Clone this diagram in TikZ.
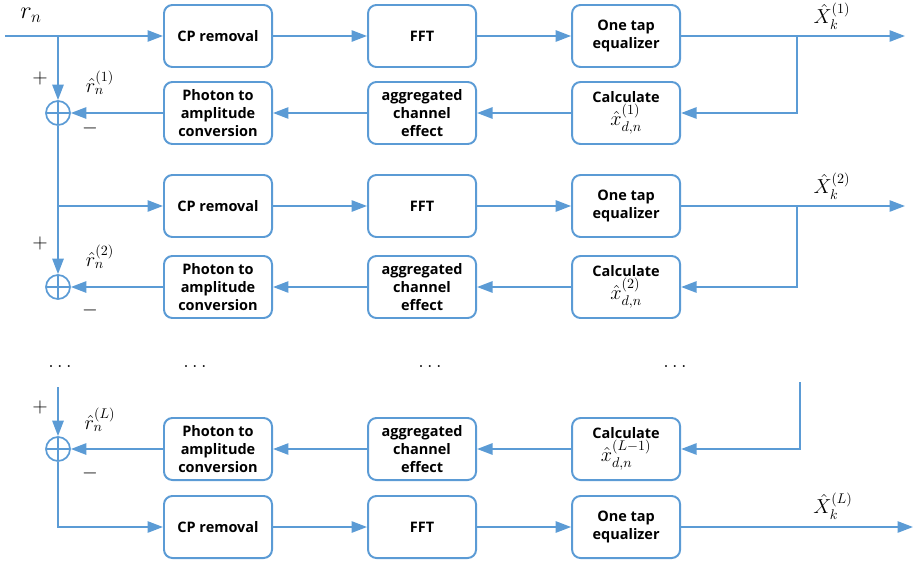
\documentclass[tikz,border=0pt]{standalone}
\usepackage{amsmath}
\usepackage{fontspec}
\newfontfamily\blockfont{Open Sans}
\usetikzlibrary{arrows.meta, positioning}
\definecolor{lineblue}{RGB}{91,155,213}
\newcommand*{\xest}[1]{{\fontsize{14.5}{15}\selectfont$\hat{x}^{(#1)}_{d,n}$}}

\begin{document}
\begin{tikzpicture}[
        x=0.025cm, y=-0.025cm, on grid, node distance=1.9cm and 5.1cm,
        >={Triangle[length=11pt,width=8pt]},
        blk/.style={draw=lineblue, line width=1.4pt, rounded corners=6pt,
          minimum width=2.7cm, minimum height=1.55cm, align=center,
          font=\blockfont\bfseries\fontsize{10.3}{12.6}\selectfont},
        sum/.style={draw=lineblue, line width=1.2pt, circle, minimum size=0.6cm, inner sep=0pt,
          path picture={\draw[lineblue, line width=1.2pt]
            (path picture bounding box.north) -- (path picture bounding box.south)
            (path picture bounding box.west) -- (path picture bounding box.east);}},
        wire/.style={lineblue, line width=1.4pt},
        lbl/.style={font=\fontsize{14}{16}\selectfont, inner sep=1pt},
        sgn/.style={font=\Large, inner sep=1pt},
        ]
        \useasboundingbox (0,0) rectangle (913,566);

        % first branch
        \node[blk] (cp1) at (218,36) {CP removal};
        \node[blk, right=of cp1] (fft1) {FFT};
        \node[blk, right=of fft1] (eq1) {One tap\\equalizer};
        \node[blk] (pa1) at (218,113) {Photon to\\amplitude\\conversion};
        \node[blk, right=of pa1] (ag1) {aggregated\\channel\\effect};
        \node[blk, right=of ag1] (ca1) {Calculate\\\xest{1}};
        \node[sum] (s1) at (58,113) {};

        % second branch
        \node[blk] (cp2) at (218,206) {CP removal};
        \node[blk, right=of cp2] (fft2) {FFT};
        \node[blk, right=of fft2] (eq2) {One tap\\equalizer};
        \node[blk] (pa2) at (218,287) {Photon to\\amplitude\\conversion};
        \node[blk, right=of pa2] (ag2) {aggregated\\channel\\effect};
        \node[blk, right=of ag2] (ca2) {Calculate\\\xest{2}};
        \node[sum] (s2) at (58,287) {};

        % last branch
        \node[blk] (pa3) at (218,449) {Photon to\\amplitude\\conversion};
        \node[blk, right=of pa3] (ag3) {aggregated\\channel\\effect};
        \node[blk, right=of ag3] (ca3) {Calculate\\\xest{L-1}};
        \node[blk] (cp3) at (218,527) {CP removal};
        \node[blk, right=of cp3] (fft3) {FFT};
        \node[blk, right=of fft3] (eq3) {One tap\\equalizer};
        \node[sum] (s3) at (58,449) {};

        \coordinate (in) at (5,36);
        \coordinate (b1) at (58,36);
        \coordinate (o1) at (905,36);
        \coordinate (t1) at (797,36);
        \coordinate (o2) at (905,206);
        \coordinate (t2) at (797,206);
        \coordinate (t3) at (800,382);
        \coordinate (b3) at (58,387);
        \coordinate (o3) at (913,527);

        \node[font=\LARGE] (rn) at (31,15) {$r_n$};
        \node[lbl] (r1) at (100,83) {$\hat{r}^{(1)}_n$};
        \node[lbl] (r2) at (100,257) {$\hat{r}^{(2)}_n$};
        \node[lbl] (r3) at (100,420) {$\hat{r}^{(L)}_n$};
        \node[sgn] (p1) at (40,78) {$+$};
        \node[sgn] (p2) at (40,243) {$+$};
        \node[sgn] (p3) at (40,407) {$+$};
        \node[sgn] (m1) at (90,128) {$-$};
        \node[sgn] (m2) at (90,310) {$-$};
        \node[sgn] (m3) at (90,473) {$-$};
        \node[lbl] (X1) at (832,16) {$\hat{X}^{(1)}_k$};
        \node[lbl] (X2) at (832,186) {$\hat{X}^{(2)}_k$};
        \node[lbl] (X3) at (833,506) {$\hat{X}^{(L)}_k$};
        \node[font=\Large, anchor=base] (d1) at (60,367) {$\ldots$};
        \node[font=\Large, anchor=base] (d2) at (195,367) {$\ldots$};
        \node[font=\Large, anchor=base] (d3) at (430,367) {$\ldots$};
        \node[font=\Large, anchor=base] (d4) at (675,367) {$\ldots$};

        \draw[wire, ->] (in) -- (cp1);
        \draw[wire, ->] (b1) -- (s1);
        \draw[wire, ->] (s1) -- (s2);
        \draw[wire, ->] (b3) -- (s3);
        \path[wire, ->]
        (cp1) edge (fft1) (fft1) edge (eq1)
        (cp2) edge (fft2) (fft2) edge (eq2)
        (cp3) edge (fft3) (fft3) edge (eq3)
        (ca1) edge (ag1) (ag1) edge (pa1) (pa1) edge (s1)
        (ca2) edge (ag2) (ag2) edge (pa2) (pa2) edge (s2)
        (ca3) edge (ag3) (ag3) edge (pa3) (pa3) edge (s3)
        (eq1) edge (o1) (eq2) edge (o2) (eq3) edge (o3);
        \draw[wire, ->] (s1.south) |- (cp2);
        \draw[wire, ->] (s3.south) |- (cp3);
        \draw[wire, ->] (t1) |- (ca1);
        \draw[wire, ->] (t2) |- (ca2);
        \draw[wire, ->] (t3) |- (ca3);
      \end{tikzpicture}
\end{document}
